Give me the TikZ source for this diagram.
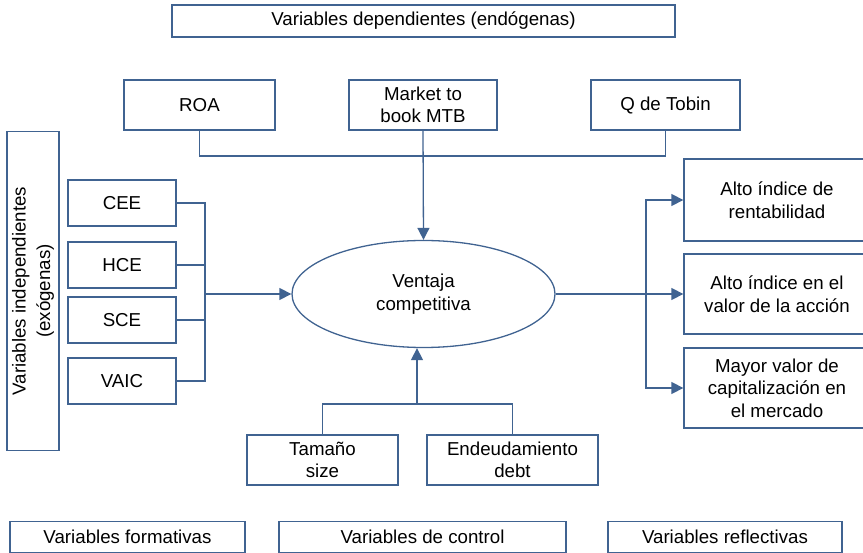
\documentclass[tikz,border=0pt]{standalone}
\usepackage{fontspec}
\setmainfont{Liberation Sans}
\usetikzlibrary{arrows.meta,shapes.geometric}
\definecolor{azul}{RGB}{64,99,145}
\tikzset{
  caja/.style={draw=azul, line width=1.3pt, align=center, inner sep=0pt,
    font=\fontsize{18.7}{22.5}\selectfont},
  tam/.style 2 args={minimum width=#1pt, minimum height=#2pt},
  linea/.style={draw=azul, line width=1.3pt},
  flecha/.style={-{Triangle[length=12pt,width=12pt]}},
}
\begin{document}
\begin{tikzpicture}[x=1pt,y=-1pt]
        \useasboundingbox (0,0) rectangle (863,553);
        % dependientes
        \node[caja,tam={503}{32}] (T0) at (423.5,21) {Variables dependientes (endógenas)};
        \node[caja,tam={151}{50}] (A0_0) at (199.5,105) {ROA};
        \node[caja,tam={148}{50}] (A0_1) at (423,105) {Market to\\book MTB};
        \node[caja,tam={149}{50}] (A0_2) at (665.5,105) {Q de Tobin};
        % independientes
        \node[caja,tam={319}{52},rotate=90,
          font=\fontsize{18.7}{24.5}\selectfont] (T1) at (33,291) {Variables independientes\\(exógenas)};
        \node[caja,tam={108}{46}] (A1_0) at (122,203) {CEE};
        \node[caja,tam={108}{46}] (A1_1) at (122,265) {HCE};
        \node[caja,tam={108}{46}] (A1_2) at (122,320) {SCE};
        \node[caja,tam={108}{46}] (A1_3) at (122,381) {VAIC};
        % centro
        \node[caja,ellipse,tam={263}{107}] (E) at (423.5,294) {Ventaja\\competitiva};
        % reflectivas
        \node[caja,tam={186}{82}] (A2_0) at (777,200) {Alto índice de\\rentabilidad};
        \node[caja,tam={186}{80}] (A2_1) at (777,294) {Alto índice en el\\valor de la acción};
        \node[caja,tam={186}{80}] (A2_2) at (777,388) {Mayor valor de\\capitalización en\\el mercado};
        % control
        \node[caja,tam={151}{50}] (A3_0) at (322.5,460) {Tamaño\\size};
        \node[caja,tam={171}{50}] (A3_1) at (512.5,460) {Endeudamiento\\debt};
        % leyenda
        \node[caja,tam={235}{31}] (L0) at (127.5,537) {Variables formativas};
        \node[caja,tam={287}{31}] (L1) at (422.5,537) {Variables de control};
        \node[caja,tam={234}{31}] (L2) at (725,537) {Variables reflectivas};
        % conectores
        \coordinate (C0) at (423,156);
        \coordinate (C1) at (205,294);
        \coordinate (C2) at (646,294);
        \coordinate (C3) at (417,404);
        \draw[linea] (A0_0.south) |- (C0) -| (A0_2.south);
        \draw[linea,flecha] (A0_1.south) -- (E.north);
        \draw[linea] (A1_0.east) -| (C1);
        \draw[linea] (A1_1.east) -| (C1);
        \draw[linea] (A1_2.east) -| (C1);
        \draw[linea] (A1_3.east) -| (C1);
        \draw[linea,flecha] (C1) -- (E.west);
        \draw[linea,flecha] (E.east) -- (A2_1.west);
        \draw[linea,flecha] (C2) |- (A2_0.west);
        \draw[linea,flecha] (C2) |- (A2_2.west);
        \draw[linea] (A3_0.north) |- (C3) -| (A3_1.north);
        \draw[linea,flecha] (C3) -- (E.south -| C3);
      \end{tikzpicture}
\end{document}
